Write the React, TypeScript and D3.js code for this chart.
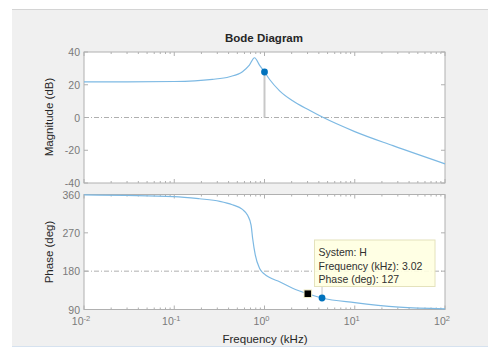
import React from 'react';
import * as d3 from 'd3';

// values
const magFreq = [0.01, 0.03, 0.1, 0.265, 0.41, 0.57, 0.68, 0.775, 0.88, 1.0, 1.14, 1.47, 2.05, 3.15, 4.43, 10, 26.5, 100];
const magDb = [21.8, 21.8, 22, 23.3, 24.9, 28, 32, 36.5, 32, 27.8, 23.2, 16.3, 10.2, 4.4, 0.1, -8.6, -17.2, -28.3];

const phaseFreq = [0.01, 0.1, 0.19, 0.32, 0.44, 0.57, 0.65, 0.71, 0.74, 0.79, 0.88, 1.0, 1.14, 1.47, 2.05, 3.02, 4.34, 10, 31, 100];
const phaseDeg = [359, 355, 350, 344, 336, 325, 311, 288, 256, 218, 187, 173, 165, 155, 140, 127, 117, 106, 95.6, 91.6];

const magTicks = [40, 20, 0, -20, -40];
const phaseTicks = [360, 270, 180, 90];
const decadeTicks = [0.01, 0.1, 1, 10, 100];
const decadeLabels = ['-2', '-1', '0', '1', '2'];

const magMarker = { f: 1.0, db: 27.8 };
const dataTip = { f: 3.02, deg: 127 };
const phaseDot = { f: 4.34, deg: 117 };
const tipLines = ['System: H', 'Frequency (kHz): 3.02', 'Phase (deg): 127'];

const FONT = '"Liberation Sans", Arial, sans-serif';
const LINE = '#7db9e3';
const AX = '#b0b0b0';
const TXT = '#7a7a7a';

const x = d3.scaleLog().domain([0.01, 100]).range([84, 445]);
const yMag = d3.scaleLinear().domain([-40, 40]).range([183, 52]);
const yPh = d3.scaleLinear().domain([90, 360]).range([309.5, 194.5]);

const minorTicks: number[] = [];
decadeTicks.slice(0, -1).forEach(d => {
  for (let k = 2; k <= 9; k++) minorTicks.push(d * k);
});

const Axes: React.FC<{ y: d3.ScaleLinear<number, number>; ticks: number[]; grid: number }> = ({ y, ticks, grid }) => {
  const [y0, y1] = y.range();
  const top = Math.min(y0, y1);
  const bot = Math.max(y0, y1);
  const [xl, xr] = x.range();
  return (
    <g>
      <rect x={xl} y={top} width={xr - xl} height={bot - top} fill="#fff" />
      <line x1={xl} x2={xr} y1={y(grid)} y2={y(grid)} stroke="#9a9a9a" strokeWidth={0.8} strokeDasharray="5,2,1,2" />
      {decadeTicks.map(t => (
        <g key={'M' + t}>
          <line x1={x(t)} x2={x(t)} y1={bot} y2={bot - 4} stroke={AX} />
          <line x1={x(t)} x2={x(t)} y1={top} y2={top + 4} stroke={AX} />
        </g>
      ))}
      {minorTicks.map(t => (
        <g key={'m' + t}>
          <line x1={x(t)} x2={x(t)} y1={bot} y2={bot - 2} stroke={AX} />
          <line x1={x(t)} x2={x(t)} y1={top} y2={top + 2} stroke={AX} />
        </g>
      ))}
      {ticks.map(t => (
        <g key={'y' + t}>
          <line x1={xl} x2={xl + 4} y1={y(t)} y2={y(t)} stroke={AX} />
          <line x1={xr} x2={xr - 4} y1={y(t)} y2={y(t)} stroke={AX} />
          <text x={xl - 4} y={y(t) + 4} textAnchor="end" fontSize={10.5} fill={TXT} fontFamily={FONT}>{t}</text>
        </g>
      ))}
      <rect x={xl} y={top} width={xr - xl} height={bot - top} fill="none" stroke={AX} />
    </g>
  );
};

export default function App() {
  const magLine = d3.line<number>()
    .x((_, i) => x(magFreq[i]))
    .y(d => yMag(d))
    .curve(d3.curveMonotoneX)(magDb) || '';
  const phLine = d3.line<number>()
    .x((_, i) => x(phaseFreq[i]))
    .y(d => yPh(d))
    .curve(d3.curveMonotoneX)(phaseDeg) || '';

  const tipX = 314.5;
  const tipY = 240;
  return (
    <svg width={488} height={348} style={{ position: 'absolute', left: 0, top: 0 }}>
      <rect x={0} y={0} width={488} height={348} fill="#fff" />
      <rect x={12} y={9} width={476} height={337} fill="#f0f0f0" />
      <line x1={12} x2={488} y1={9.5} y2={9.5} stroke="#d4d4d4" />
      <line x1={12} x2={488} y1={346.5} y2={346.5} stroke="#d6e2ef" />

      <text x={264} y={42} textAnchor="middle" fontSize={11.5} fontWeight="bold" fill="#262626" fontFamily={FONT}>Bode Diagram</text>

      <Axes y={yMag} ticks={magTicks} grid={0} />
      <Axes y={yPh} ticks={phaseTicks} grid={180} />

      <line x1={x(magMarker.f)} x2={x(magMarker.f)} y1={yMag(magMarker.db)} y2={yMag(0)} stroke="#c8c8c8" strokeWidth={2} />
      <path d={magLine} fill="none" stroke={LINE} strokeWidth={1.2} />
      <circle cx={x(magMarker.f)} cy={yMag(magMarker.db)} r={3.4} fill="#0072bd" />

      <path d={phLine} fill="none" stroke={LINE} strokeWidth={1.2} />
      <line x1={x(phaseDot.f)} x2={x(phaseDot.f)} y1={yPh(phaseDot.deg)} y2={286} stroke="#c8c8c8" strokeWidth={1} />
      <circle cx={x(phaseDot.f)} cy={yPh(phaseDot.deg)} r={3.4} fill="#0072bd" />
      <rect x={x(dataTip.f) - 3.8} y={yPh(dataTip.deg) - 3.8} width={7.6} height={7.6} fill="#000" stroke="#f3f0c8" strokeWidth={1} />

      <rect x={tipX} y={tipY} width={120.5} height={46.5} fill="#ffffe1" stroke="#e4e2bc" fillOpacity={0.9} />
      {tipLines.map((s, i) => (
        <text key={s} x={tipX + 4} y={tipY + 16 + i * 13.5} fontSize={10.5} fill="#303030" fontFamily={FONT}>{s}</text>
      ))}

      {decadeTicks.map((t, i) => (
        <text key={t} x={x(t) - 3} y={325} textAnchor="middle" fontSize={10.5} fill={TXT} fontFamily={FONT}>
          10<tspan dy={-4.5} fontSize={7.5}>{decadeLabels[i]}</tspan>
        </text>
      ))}

      <text x={265} y={343} textAnchor="middle" fontSize={11.5} fill="#262626" fontFamily={FONT}>Frequency  (kHz)</text>
      <text transform={`translate(53,117) rotate(-90)`} textAnchor="middle" fontSize={11.5} fill="#262626" fontFamily={FONT}>Magnitude (dB)</text>
      <text transform={`translate(53,252) rotate(-90)`} textAnchor="middle" fontSize={11.5} fill="#262626" fontFamily={FONT}>Phase (deg)</text>
    </svg>
  );
}
